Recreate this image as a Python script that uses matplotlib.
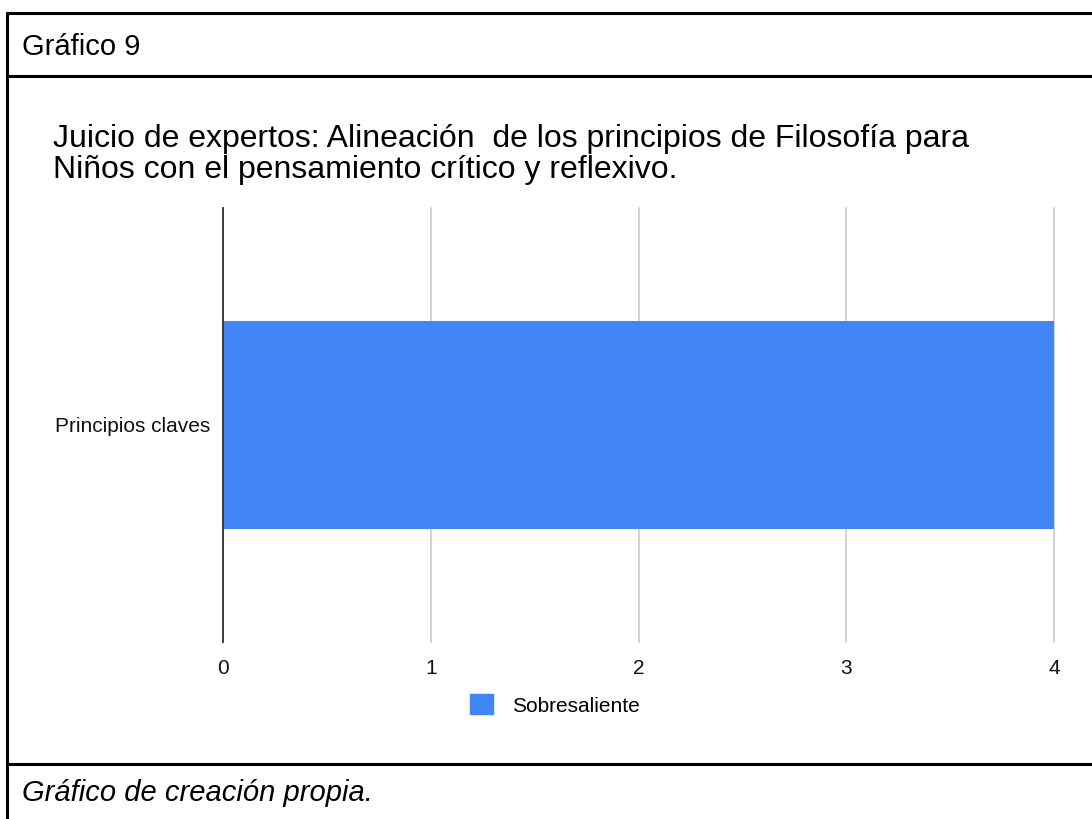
import matplotlib.pyplot as plt
from matplotlib.lines import Line2D
from matplotlib.patches import Patch

plt.rcParams["font.family"] = ["Liberation Sans", "DejaVu Sans"]

categorias = ["Principios claves"]
valores = [4]
serie = "Sobresaliente"
titulo = ["Juicio de expertos: Alineación  de los principios de Filosofía para",
          "Niños con el pensamiento crítico y reflexivo."]
encabezado = "Gráfico 9"
pie = "Gráfico de creación propia."
azul = "#4285f4"

W, H = 1092, 819
fig = plt.figure(figsize=(W / 100, H / 100), dpi=100)


def fx(px):
    return px / W


def fy(py):
    return 1 - py / H


# marco de la tabla
for y in (13, 76, 764):
    fig.add_artist(Line2D([fx(6), 1], [fy(y), fy(y)], color="black", lw=2.2,
                          solid_capstyle="butt"))
fig.add_artist(Line2D([fx(7), fx(7)], [fy(12), 0], color="black", lw=2.2,
                      solid_capstyle="butt"))

fig.text(fx(22), fy(55), encabezado, fontsize=21, va="baseline", ha="left")
fig.text(fx(22), fy(801), pie, fontsize=21, style="italic", va="baseline", ha="left")
for i, linea in enumerate(titulo):
    fig.text(fx(53), fy(147 + 31 * i), linea, fontsize=23, va="baseline", ha="left")

ax = fig.add_axes([fx(223), fy(642), fx(1054) - fx(223), fy(208) - fy(642)])
ax.barh(categorias, valores, height=0.477, color=azul, zorder=3)
ax.set_xlim(0, 4)
ax.set_ylim(-0.5, 0.5)
ax.set_xticks(range(5))
ax.grid(axis="x", color="#cccccc", lw=1.2, zorder=0)
for gl in ax.get_xgridlines():
    gl.set_clip_on(False)
for s in ("top", "right", "bottom"):
    ax.spines[s].set_visible(False)
ax.spines["left"].set_color("#333333")
ax.spines["left"].set_linewidth(1.3)
ax.spines["left"].set_zorder(4)
ax.tick_params(axis="both", length=0, labelsize=15, colors="#111111")
ax.tick_params(axis="x", pad=12)
ax.tick_params(axis="y", pad=9)

fig.legend(handles=[Patch(color=azul, label=serie)], loc="center",
           bbox_to_anchor=(fx(555), fy(705)), frameon=False, fontsize=15,
           handlelength=1.1, handleheight=1.1, handletextpad=0.9)

fig.savefig("out.png", dpi=100)
